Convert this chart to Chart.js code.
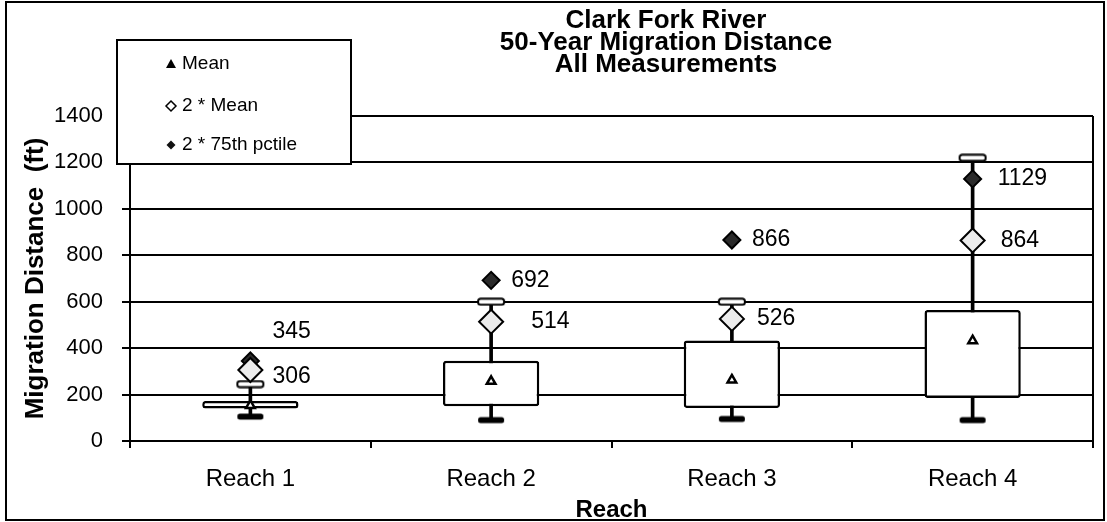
<!DOCTYPE html>
<html><head><meta charset="utf-8">
<script src="https://cdn.jsdelivr.net/npm/chart.js@4.4.0/dist/chart.umd.min.js"></script>
<style>html,body{margin:0;padding:0;background:#fff;}#wrap{width:1107px;height:522px;position:relative;}</style>
</head><body><div id="wrap"><canvas id="c" width="1107" height="522"></canvas></div>
<script>
// ---- data ----
const categories = ['Reach 1', 'Reach 2', 'Reach 3', 'Reach 4'];
const whiskerLow = [105, 90, 95, 90];
const boxQ1 = [140, 150, 142, 185];
const boxQ3 = [172.5, 346, 433, 564.5];
const whiskerHigh = [245, 600, 600, 1220];
const meanValues = [153, 257, 263, 432];
const twiceMean = [306, 514, 526, 864];
const twiceP75 = [345, 692, 866, 1129];
const yTickValues = [0, 200, 400, 600, 800, 1000, 1200, 1400];
const titleLines = ['Clark Fork River', '50-Year Migration Distance', 'All Measurements'];
const yAxisTitle = 'Migration Distance  (ft)';
const xAxisTitle = 'Reach';

// ---- label placement (style config) ----
const meanLabelOffsets = [{dx: 22, dy: 7}, {dx: 40, dy: 0}, {dx: 25, dy: 0}, {dx: 28, dy: 0}];
const p75LabelOffsets = [{dx: 22, dy: -29}, {dx: 20, dy: 0}, {dx: 20, dy: 0}, {dx: 25, dy: 0}];

const FONT = "'Liberation Sans', Arial, Helvetica, sans-serif";

function makeCap(filled) {
  const c = document.createElement('canvas');
  c.width = 30; c.height = 9;
  const g = c.getContext('2d');
  g.beginPath();
  if (g.roundRect) g.roundRect(2, 1.5, 26, 6, 2.5); else g.rect(2, 1.5, 26, 6);
  if (filled) { g.fillStyle = '#000'; g.fill(); }
  else { g.fillStyle = '#fff'; g.fill(); g.lineWidth = 2; g.strokeStyle = '#000'; g.stroke(); }
  return c;
}
const capLow = makeCap(true);
const capHigh = makeCap(false);

const bgPlugin = {
  id: 'bg',
  beforeDraw(chart) {
    const ctx = chart.ctx;
    ctx.save(); ctx.fillStyle = '#fff'; ctx.fillRect(0, 0, chart.width, chart.height); ctx.restore();
  }
};

const framePlugin = {
  id: 'frame',
  beforeDatasetsDraw(chart) {
    const {ctx, chartArea: a} = chart;
    ctx.save();
    ctx.strokeStyle = '#000'; ctx.lineWidth = 2;
    ctx.beginPath(); ctx.moveTo(a.right, a.top); ctx.lineTo(a.right, a.bottom); ctx.stroke();
    ctx.beginPath(); ctx.moveTo(a.left, a.top); ctx.lineTo(a.right, a.top); ctx.stroke();
    ctx.restore();
  }
};

const valueLabelPlugin = {
  id: 'valueLabels',
  afterDatasetsDraw(chart) {
    const ctx = chart.ctx;
    ctx.save();
    ctx.font = '23px ' + FONT;
    ctx.fillStyle = '#000';
    ctx.textAlign = 'left';
    ctx.textBaseline = 'middle';
    const draw = (dsIndex, offs) => {
      const meta = chart.getDatasetMeta(dsIndex);
      const ds = chart.data.datasets[dsIndex];
      meta.data.forEach((pt, i) => {
        const o = offs[i];
        ctx.fillText(String(ds.data[i]), pt.x + o.dx, pt.y + o.dy);
      });
    };
    draw(5, meanLabelOffsets);
    draw(6, p75LabelOffsets);
    ctx.restore();
  }
};

const overlayPlugin = {
  id: 'overlay',
  afterDraw(chart) {
    const ctx = chart.ctx;
    ctx.save();
    // title
    ctx.fillStyle = '#000';
    ctx.font = 'bold 26px ' + FONT;
    ctx.textAlign = 'center';
    ctx.textBaseline = 'middle';
    const ty = [21, 43, 65];
    titleLines.forEach((t, i) => ctx.fillText(t, 666, ty[i]));

    // legend box
    const lx = 117, ly = 40, lw = 234, lh = 124;
    ctx.fillStyle = '#fff';
    ctx.fillRect(lx, ly, lw, lh);
    ctx.strokeStyle = '#000'; ctx.lineWidth = 2;
    ctx.strokeRect(lx, ly, lw, lh);
    const items = [4, 5, 6];
    const iy = [64, 106, 145];
    ctx.font = '19px ' + FONT;
    ctx.textAlign = 'left';
    items.forEach((dsIndex, k) => {
      const ds = chart.data.datasets[dsIndex];
      const mx = 171, my = iy[k];
      ctx.beginPath();
      if (k === 0) {
        ctx.moveTo(mx, my - 5); ctx.lineTo(mx + 5, my + 4); ctx.lineTo(mx - 5, my + 4); ctx.closePath();
        ctx.fillStyle = '#000'; ctx.fill();
      } else if (k === 1) {
        ctx.moveTo(mx, my - 5); ctx.lineTo(mx + 5, my); ctx.lineTo(mx, my + 5); ctx.lineTo(mx - 5, my); ctx.closePath();
        ctx.fillStyle = '#fff'; ctx.fill(); ctx.lineWidth = 1.5; ctx.strokeStyle = '#000'; ctx.stroke();
      } else {
        ctx.moveTo(mx, my - 4.5); ctx.lineTo(mx + 4.5, my); ctx.lineTo(mx, my + 4.5); ctx.lineTo(mx - 4.5, my); ctx.closePath();
        ctx.fillStyle = '#111'; ctx.fill();
      }
      ctx.fillStyle = '#000';
      ctx.fillText(ds.label, 182, my);
    });

    // outer border
    ctx.strokeStyle = '#000'; ctx.lineWidth = 2;
    ctx.strokeRect(6, 2, 1098, 518);
    ctx.restore();
  }
};

new Chart(document.getElementById('c'), {
  type: 'bar',
  data: {
    labels: categories,
    datasets: [
      { type: 'bar', label: 'Whisker', data: categories.map((c, i) => [whiskerLow[i], whiskerHigh[i]]),
        backgroundColor: '#000', borderWidth: 0, barThickness: 3, grouped: false, order: 9 },
      { type: 'bar', label: 'Box', data: categories.map((c, i) => [boxQ1[i], boxQ3[i]]),
        backgroundColor: '#fff', borderColor: '#000', borderWidth: 2.5, borderRadius: 3, borderSkipped: false,
        barPercentage: 0.40, categoryPercentage: 1, grouped: false, order: 8 },
      { type: 'line', label: 'Min', data: whiskerLow, showLine: false, pointStyle: capLow, pointRadius: 10, order: 7 },
      { type: 'line', label: 'Max', data: whiskerHigh, showLine: false, pointStyle: capHigh, pointRadius: 10, order: 6 },
      { type: 'line', label: 'Mean', data: meanValues, showLine: false, pointStyle: 'triangle', pointRadius: 5,
        pointBackgroundColor: '#fff', pointBorderColor: '#000', pointBorderWidth: 2.5, order: 3 },
      { type: 'line', label: '2 * Mean', data: twiceMean, showLine: false, pointStyle: 'rectRot', pointRadius: 12,
        pointBackgroundColor: '#ececec', pointBorderColor: '#000', pointBorderWidth: 2, order: 1 },
      { type: 'line', label: '2 * 75th pctile', data: twiceP75, showLine: false, pointStyle: 'rectRot', pointRadius: 8.5,
        pointBackgroundColor: '#2a2a2a', pointBorderColor: '#000', pointBorderWidth: 2, order: 2 }
    ]
  },
  options: {
    responsive: false,
    devicePixelRatio: 1,
    animation: false,
    events: [],
    layout: { padding: { left: 0, right: 10, top: 116, bottom: 0 } },
    plugins: { legend: { display: false }, title: { display: false }, tooltip: { enabled: false } },
    scales: {
      x: {
        offset: true,
        grid: { display: true, drawOnChartArea: false, drawTicks: true, tickLength: 7, color: '#000', lineWidth: 2, offset: true },
        border: { display: true, color: '#000', width: 2 },
        ticks: { color: '#000', font: { size: 24, family: FONT }, padding: 17 },
        title: { display: true, text: xAxisTitle, color: '#000', font: { size: 24, weight: 'bold', family: FONT, lineHeight: 1 }, padding: { top: 0, bottom: 0 } },
        afterFit(s) { s.height = 81; }
      },
      y: {
        min: 0, max: 1400,
        afterBuildTicks(s) { s.ticks = yTickValues.map(v => ({ value: v })); },
        grid: { color: '#000', lineWidth: 2, tickLength: 8, drawTicks: true },
        border: { display: true, color: '#000', width: 2 },
        ticks: { color: '#000', font: { size: 22, family: FONT }, padding: 19, callback: v => String(v) },
        title: { display: true, text: yAxisTitle, color: '#000', font: { size: 26, weight: 'bold', family: FONT, lineHeight: 1.2 }, padding: { top: 20, bottom: 0 } },
        afterFit(s) { s.width = 130; }
      }
    }
  },
  plugins: [bgPlugin, framePlugin, valueLabelPlugin, overlayPlugin]
});
</script></body></html>
